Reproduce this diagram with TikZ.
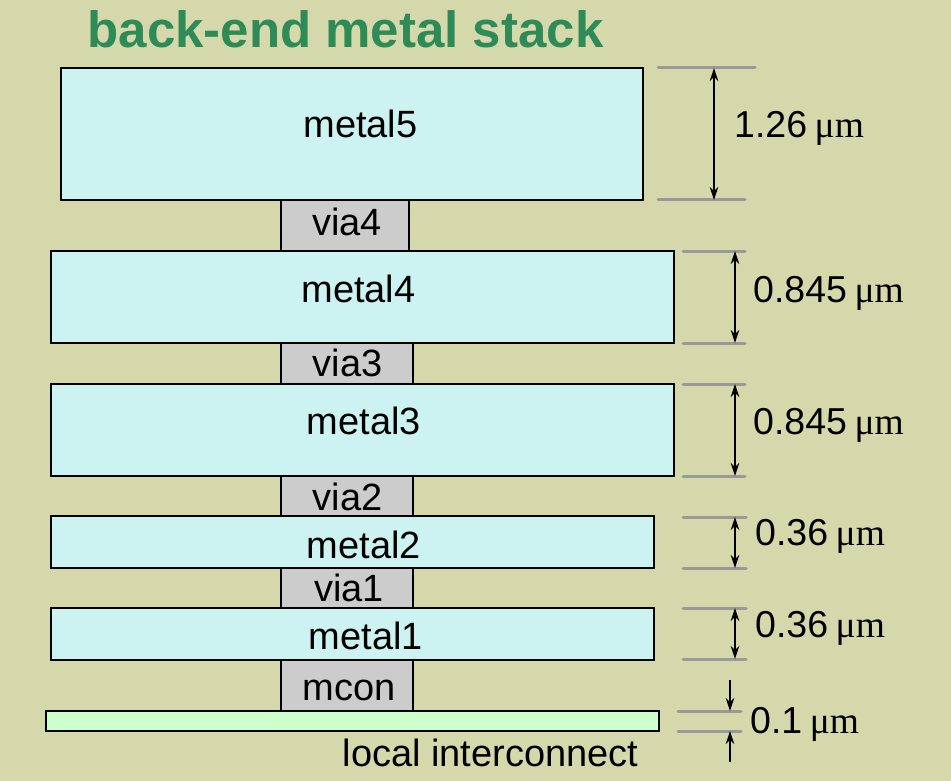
\documentclass[tikz,border=0pt]{standalone}
\usepackage{fontspec}
\setmainfont{Liberation Sans}
\newfontfamily\unitfont{Liberation Serif}
\usetikzlibrary{arrows.meta}
\definecolor{bg}{HTML}{D5D8AA}
\definecolor{metalfill}{HTML}{CCF2F2}
\definecolor{viafill}{HTML}{CCCCCC}
\definecolor{lifill}{HTML}{CCFFCC}
\definecolor{titlegreen}{HTML}{2E8B57}
\definecolor{dimgray}{HTML}{999999}
\newcommand{\um}[1]{#1\hspace{0.2em}{\unitfont μm}}

\begin{document}
\begin{tikzpicture}[x=1pt,y=-1pt,
  layer/.style={draw=black, line width=1.3pt, inner sep=0pt, outer sep=0pt},
  metal/.style={layer, fill=metalfill},
  via/.style={layer, fill=viafill},
  lbl/.style={anchor=base, font=\fontsize{38}{41}\selectfont, inner sep=0pt},
  dimlbl/.style={anchor=base west, font=\fontsize{37.5}{41}\selectfont, inner sep=0pt},
  ext/.style={draw=dimgray, line width=3pt, line cap=round},
  tip/.style={},
  dimarrow/.style={draw=black, line width=1.3pt, {Stealth[length=13pt,width=8.5pt]}-{Stealth[length=13pt,width=8.5pt]}},
  onearrow/.style={draw=black, line width=1.3pt, -{Stealth[length=13pt,width=8.5pt]}},
]
% page background
\fill[bg] (0,0) rectangle (951,781);

% title
\node[anchor=base, inner sep=0pt, text=titlegreen,
      font=\fontsize{51}{54}\bfseries\selectfont] (title) at (345.5,48) {back-end metal stack};

% vias and contact
\node[via, minimum width=128pt, minimum height=51pt] (via4) at (345,225.5) {};
\node[via, minimum width=132pt, minimum height=41pt] (via3) at (347,363.5) {};
\node[via, minimum width=132pt, minimum height=40pt] (via2) at (347,496) {};
\node[via, minimum width=132pt, minimum height=40pt] (via1) at (347,588) {};
\node[via, minimum width=132pt, minimum height=51pt] (mcon) at (347,685.5) {};

% metal layers
\node[metal, minimum width=582pt, minimum height=132pt] (metal5) at (352,134) {};
\node[metal, minimum width=623pt, minimum height=92pt] (metal4) at (362.5,297) {};
\node[metal, minimum width=623pt, minimum height=92pt] (metal3) at (362.5,430) {};
\node[metal, minimum width=603pt, minimum height=52pt] (metal2) at (352.5,542) {};
\node[metal, minimum width=603pt, minimum height=52pt] (metal1) at (352.5,634) {};
\node[layer, fill=lifill, minimum width=613pt, minimum height=20pt] (li) at (352.5,721) {};

% layer names
\node[lbl] (t5) at (360.5,138) {metal5};
\node[lbl] (t4) at (358.5,302) {metal4};
\node[lbl] (t3) at (364,434) {metal3};
\node[lbl] (t2) at (364,558) {metal2};
\node[lbl] (t1) at (366,649) {metal1};
\node[lbl] (tv4) at (347,235) {via4};
\node[lbl] (tv3) at (347.5,376) {via3};
\node[lbl] (tv2) at (347.5,510) {via2};
\node[lbl] (tv1) at (349,601) {via1};
\node[lbl] (tmc) at (349,700) {mcon};
\node[lbl] (tli) at (490.5,766) {local interconnect};

% extension lines
\draw[ext] (658,68) -- (755,68);
\draw[ext] (658,200) -- (745,200);
\draw[ext] (683,251) -- (745,251);
\draw[ext] (683,343) -- (745,343);
\draw[ext] (683,384) -- (745,384);
\draw[ext] (683,476) -- (745,476);
\draw[ext] (683,517) -- (746,517);
\draw[ext] (683,568) -- (746,568);
\draw[ext] (683,608) -- (746,608);
\draw[ext] (683,659) -- (746,659);
\draw[ext] (678,711) -- (741,711);
\draw[ext] (678,731) -- (741,731);

% dimension arrows
\coordinate (d5t) at (714,68);   \coordinate (d5b) at (714,200);
\coordinate (d4t) at (735,251);  \coordinate (d4b) at (735,343);
\coordinate (d3t) at (735,384);  \coordinate (d3b) at (735,476);
\coordinate (d2t) at (735,517);  \coordinate (d2b) at (735,568);
\coordinate (d1t) at (735,608);  \coordinate (d1b) at (735,659);
\coordinate (dlf) at (730,680);  \coordinate (dlt) at (730,711);
\coordinate (dlg) at (730,762);  \coordinate (dlb) at (730,731);
\draw[dimarrow] (d5t) -- (d5b);
\draw[dimarrow] (d4t) -- (d4b);
\draw[dimarrow] (d3t) -- (d3b);
\draw[dimarrow] (d2t) -- (d2b);
\draw[dimarrow] (d1t) -- (d1b);
\draw[onearrow] (dlf) -- (dlt);
\draw[onearrow] (dlg) -- (dlb);

% dimension values
\node[dimlbl] (v5) at (734,138) {\um{1.26}};
\node[dimlbl] (v4) at (753,302) {\um{0.845}};
\node[dimlbl] (v3) at (753,434) {\um{0.845}};
\node[dimlbl] (v2) at (755,545) {\um{0.36}};
\node[dimlbl] (v1) at (755,637) {\um{0.36}};
\node[dimlbl] (v0) at (750,733) {\um{0.1}};
\end{tikzpicture}
\end{document}
